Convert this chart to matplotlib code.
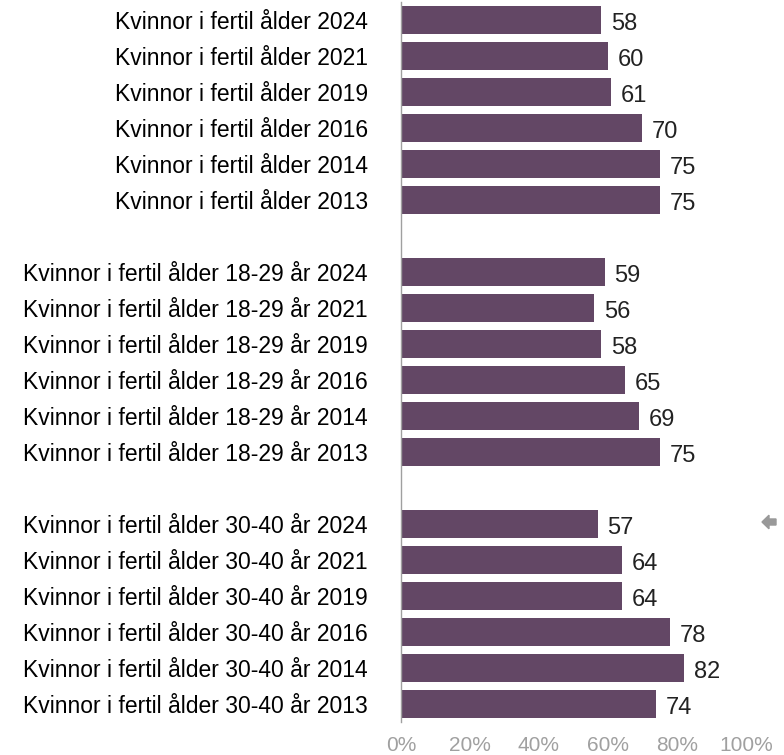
import numpy as np
import matplotlib.pyplot as plt
from matplotlib.patches import FancyArrow

plt.rcParams['font.family'] = ['Liberation Sans', 'DejaVu Sans']

groups = ['Kvinnor i fertil ålder', 'Kvinnor i fertil ålder 18-29 år',
          'Kvinnor i fertil ålder 30-40 år']
years = ['2024', '2021', '2019', '2016', '2014', '2013']
vals_all = [58, 60, 61, 70, 75, 75]
vals_18_29 = [59, 56, 58, 65, 69, 75]
vals_30_40 = [57, 64, 64, 78, 82, 74]
xticks = [0, 20, 40, 60, 80, 100]

bar_color = '#634765'
grey = '#a0a0a0'

fig = plt.figure(figsize=(7.84, 7.55), dpi=100)
ax = fig.add_axes([0.5115, 1 - 722 / 755, 0.44, 720 / 755])

pos, vals, labels = [], [], []
slot = 0
for g, series in zip(groups, [vals_all, vals_18_29, vals_30_40]):
    for y, v in zip(years, series):
        pos.append(slot)
        vals.append(v)
        labels.append(f'{g} {y}')
        slot += 1
    slot += 1

ax.barh(pos, vals, height=0.8, color=bar_color)
for p, v in zip(pos, vals):
    ax.text(v + 2.8, p + 0.1, str(v), va='center', ha='left',
            fontsize=17, color='#222222')

ax.set_ylim(pos[-1] + 0.5, -0.5)
ax.set_xlim(0, 100)
ax.set_yticks(pos)
ax.set_yticklabels(labels, fontsize=16.5, color='black')
ax.set_xticks(xticks)
ax.set_xticklabels([f'{t}%' for t in xticks], fontsize=15, color=grey)
ax.tick_params(axis='y', length=0, pad=24)
ax.tick_params(axis='x', length=0, pad=10)
for s in ['top', 'right', 'bottom']:
    ax.spines[s].set_visible(False)
ax.spines['left'].set_color(grey)
ax.spines['left'].set_linewidth(1)

# small arrow marker at right edge
fig.patches.append(FancyArrow(776 / 784, 1 - 522 / 755, -14 / 784, 0,
                              width=0.008, head_width=0.018, head_length=7 / 784,
                              length_includes_head=True, color='#999999',
                              transform=fig.transFigure, figure=fig))

fig.savefig('out.png', dpi=100)
